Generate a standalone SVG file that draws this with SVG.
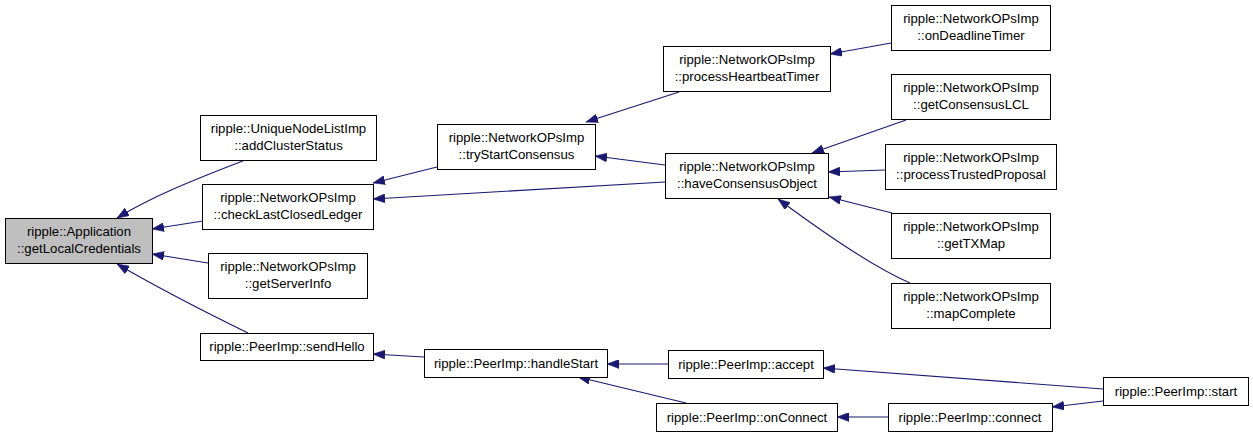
<svg xmlns="http://www.w3.org/2000/svg" width="1253" height="437" viewBox="0 0 1253 437">
<defs>
<style>
.n rect{fill:#fff;stroke:#000;stroke-width:1}
.n rect.cur{fill:#bfbfbf;stroke:#000}
.n text{font-family:"Liberation Sans",Arial,sans-serif;font-size:13.2px;fill:#000;text-anchor:middle}
.e path{fill:none;stroke:#191970;stroke-width:1.1;marker-end:url(#ah)}
</style>
<marker id="ah" viewBox="0 0 12 9" refX="12" refY="4.5" markerWidth="12" markerHeight="9" markerUnits="userSpaceOnUse" orient="auto">
<path d="M0,0 L12,4.5 L0,9 z" fill="#191970" stroke="#191970" stroke-width="0.5"/>
</marker>
</defs>
<rect width="1253" height="437" fill="#fff"/>
<g id="edges" class="e">
<path d="M245,160 C210,174 160,192 117,218"/>
<path d="M203,221 L152,229"/>
<path d="M208,263 L152,254"/>
<path d="M248,333 C205,312 155,286 117,264"/>
<path d="M437,167 L373,183"/>
<path d="M665,182 L373,199"/>
<path d="M679,92 L586,122"/>
<path d="M665,165 L595,156"/>
<path d="M891,43 L830,54"/>
<path d="M906,120 L812,153"/>
<path d="M885,170 L828,172"/>
<path d="M892,213 L829,197"/>
<path d="M910,283 C880,270 840,245 778,199"/>
<path d="M424,357 L373,354"/>
<path d="M668,364 L607,364"/>
<path d="M686,403 L578,377"/>
<path d="M1103,389 L823,368"/>
<path d="M1103,401 L1052,407"/>
<path d="M888,417 L837,417"/>
</g>
<g id="n0" class="n"><rect class="cur" x="5.5" y="218.5" width="147" height="45"/><text x="79" y="236">ripple::Application</text><text x="79" y="253">::getLocalCredentials</text></g>
<g id="n1" class="n"><rect x="200.5" y="115.5" width="176" height="45"/><text x="288.5" y="133">ripple::UniqueNodeListImp</text><text x="288.5" y="150">::addClusterStatus</text></g>
<g id="n2" class="n"><rect x="202.5" y="184.5" width="171" height="45"/><text x="288" y="202">ripple::NetworkOPsImp</text><text x="288" y="219">::checkLastClosedLedger</text></g>
<g id="n3" class="n"><rect x="208.5" y="253.5" width="159" height="45"/><text x="288" y="271">ripple::NetworkOPsImp</text><text x="288" y="288">::getServerInfo</text></g>
<g id="n4" class="n"><rect x="200.5" y="333.5" width="173" height="27"/><text x="287" y="351">ripple::PeerImp::sendHello</text></g>
<g id="n5" class="n"><rect x="437.5" y="124.5" width="158" height="45"/><text x="516.5" y="142">ripple::NetworkOPsImp</text><text x="516.5" y="159">::tryStartConsensus</text></g>
<g id="n6" class="n"><rect x="663.5" y="46.5" width="167" height="45"/><text x="747" y="64">ripple::NetworkOPsImp</text><text x="747" y="81">::processHeartbeatTimer</text></g>
<g id="n7" class="n"><rect x="665.5" y="153.5" width="163" height="45"/><text x="747" y="171">ripple::NetworkOPsImp</text><text x="747" y="188">::haveConsensusObject</text></g>
<g id="n8" class="n"><rect x="891.5" y="5.5" width="159" height="45"/><text x="971" y="23">ripple::NetworkOPsImp</text><text x="971" y="40">::onDeadlineTimer</text></g>
<g id="n9" class="n"><rect x="891.5" y="74.5" width="159" height="45"/><text x="971" y="92">ripple::NetworkOPsImp</text><text x="971" y="109">::getConsensusLCL</text></g>
<g id="n10" class="n"><rect x="885.5" y="144.5" width="171" height="45"/><text x="971" y="162">ripple::NetworkOPsImp</text><text x="971" y="179">::processTrustedProposal</text></g>
<g id="n11" class="n"><rect x="891.5" y="213.5" width="159" height="45"/><text x="971" y="231">ripple::NetworkOPsImp</text><text x="971" y="248">::getTXMap</text></g>
<g id="n12" class="n"><rect x="891.5" y="283.5" width="159" height="45"/><text x="971" y="301">ripple::NetworkOPsImp</text><text x="971" y="318">::mapComplete</text></g>
<g id="n13" class="n"><rect x="424.5" y="349.5" width="183" height="28"/><text x="516" y="368">ripple::PeerImp::handleStart</text></g>
<g id="n14" class="n"><rect x="668.5" y="350.5" width="155" height="28"/><text x="746" y="369">ripple::PeerImp::accept</text></g>
<g id="n15" class="n"><rect x="656.5" y="403.5" width="181" height="28"/><text x="747" y="422">ripple::PeerImp::onConnect</text></g>
<g id="n16" class="n"><rect x="888.5" y="403.5" width="164" height="28"/><text x="970" y="422">ripple::PeerImp::connect</text></g>
<g id="n17" class="n"><rect x="1103.5" y="377.5" width="145" height="28"/><text x="1176" y="396">ripple::PeerImp::start</text></g>
</svg>
